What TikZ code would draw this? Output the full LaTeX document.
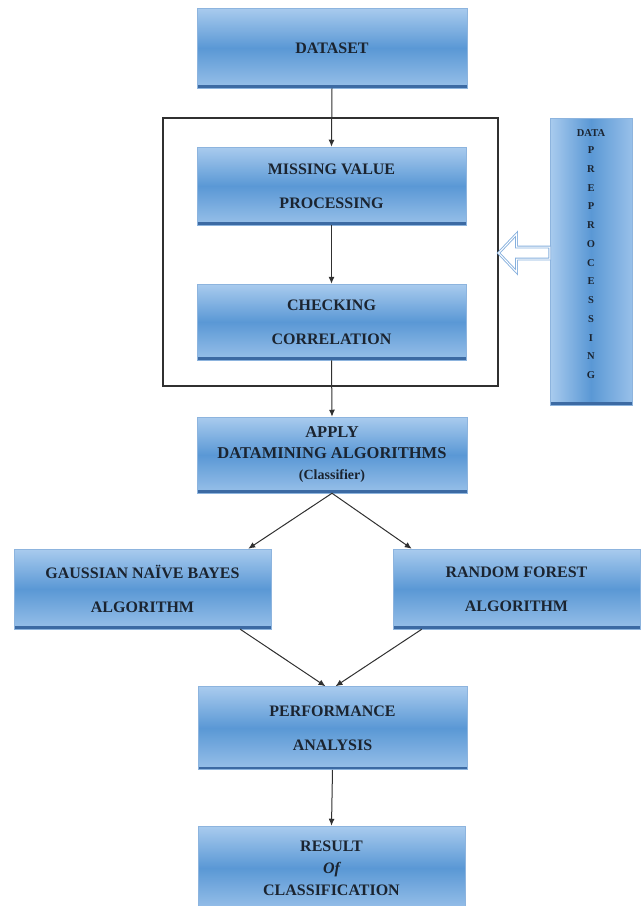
\documentclass[tikz,border=0pt]{standalone}
\usepackage{fontspec}
\setmainfont{Liberation Serif}
\usetikzlibrary{calc,arrows.meta}
\definecolor{boxtop}{HTML}{A9CBEE}
\definecolor{boxmid}{HTML}{5A98D5}
\definecolor{boxbot}{HTML}{98C0E9}
\definecolor{boxedge}{HTML}{3C6AA3}
\definecolor{boxline}{HTML}{8DB4DE}
\definecolor{txt}{HTML}{1B2430}
\definecolor{hollowc}{HTML}{86B0DE}
\definecolor{arrc}{HTML}{303030}
\begin{document}
\begin{tikzpicture}[x=1pt,y=-1pt,
  edgepic/.style={path picture={\fill[boxedge] ($(path picture bounding box.south west)+(0,-3)$) rectangle (path picture bounding box.south east);}},
  box/.style={draw=boxline, line width=0.5pt, top color=boxtop, bottom color=boxbot, middle color=boxmid,
    inner sep=0pt, align=center, text=txt, font=\fontsize{16}{34}\selectfont\bfseries, edgepic},
  sidebox/.style={draw=boxline, line width=0.5pt, left color=boxtop, right color=boxbot, middle color=boxmid,
    inner sep=0pt, edgepic},
  frame/.style={draw=arrc, line width=1.1pt, inner sep=0pt},
  arr/.style={draw=arrc, line width=1pt, -{Latex[length=7pt,width=6pt]}},
  hollow/.style={draw=hollowc, double=white, double distance=1pt, line width=0.9pt, fill=white, line join=miter},
]
\useasboundingbox (0,0) rectangle (642,906);
\clip (0,0) rectangle (642,906);

\node[frame, minimum width=335pt, minimum height=268pt] (frame) at (330.5,252) {};

\node[box, minimum width=270pt, minimum height=80pt] (dataset) at (332,48) {DATASET};
\node[box, minimum width=269pt, minimum height=78pt] (missing) at (331.5,186) {MISSING VALUE\\PROCESSING};
\node[box, minimum width=269pt, minimum height=76pt] (checking) at (331.5,322) {CHECKING\\CORRELATION};

\node[sidebox, minimum width=82pt, minimum height=287pt] (prep) at (591,261.5) {};
\node[text=txt, font=\fontsize{10.5}{18.75}\selectfont\bfseries, align=center, anchor=north, inner sep=0pt] (preptext) at (591,129.5)
  {DATA\\[-1.75pt]P\\R\\E\\P\\R\\O\\C\\E\\S\\S\\I\\N\\G};

\node[box, minimum width=270pt, minimum height=76pt, font=\fontsize{16.5}{21}\selectfont\bfseries] (apply) at (332,455)
  {APPLY\\DATAMINING ALGORITHMS\\{\fontsize{14}{21}\selectfont (Classifier)}};

\node[box, minimum width=257pt, minimum height=80pt] (gauss) at (142.5,589) {GAUSSIAN NAÏVE BAYES\\ALGORITHM};
\node[box, minimum width=247pt, minimum height=80pt] (rf) at (516.5,589) {RANDOM FOREST\\ALGORITHM};

\node[box, minimum width=269pt, minimum height=83pt] (perf) at (332.5,728) {PERFORMANCE\\ANALYSIS};
\node[box, minimum width=267pt, minimum height=84pt, font=\fontsize{16}{22}\selectfont\bfseries] (result) at (331.5,868)
  {RESULT\\{\itshape Of}\\CLASSIFICATION};

% hollow arrow from the side box to the frame
\coordinate (tip) at (frame.east |- 0,253);
\draw[hollow] (tip) -- ++(18,-19) -- ++(0,13) -- (prep.west |- 0,247) -- (prep.west |- 0,259)
  -- ($(tip)+(18,6)$) -- ++(0,13) -- cycle;

% connectors
\draw[arr] (dataset.south) -- (missing.north);
\draw[arr] (missing.south) -- (checking.north);
\draw[arr] (checking.south) -- (apply.north);
\draw[arr] (apply.south) -- ($(gauss.north east)+(-23,0)$);
\draw[arr] (apply.south) -- ($(rf.north west)+(19,0)$);
\draw[arr] ($(gauss.south east)+(-31,0)$) -- ($(perf.north)+(-7,0)$);
\draw[arr] ($(rf.south west)+(29,0)$) -- ($(perf.north)+(3,0)$);
\draw[arr] (perf.south) -- (result.north);
\end{tikzpicture}
\end{document}
